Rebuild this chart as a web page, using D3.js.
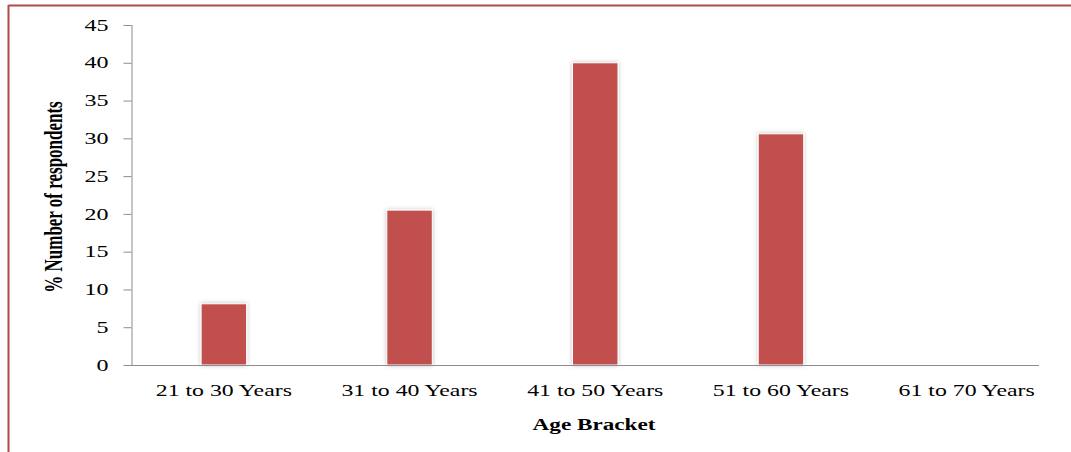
<!DOCTYPE html>
<html>
<head>
<meta charset="utf-8">
<script src="https://cdn.jsdelivr.net/npm/d3@7"></script>
<style>
  html, body { margin: 0; padding: 0; background: #fff; }
  svg { display: block; }
  text { font-family: "Liberation Serif", "Times New Roman", serif; fill: #000; }
</style>
</head>
<body>
<svg id="chart" width="1071" height="452"></svg>
<script>
const categories = ["21 to 30 Years", "31 to 40 Years", "41 to 50 Years", "51 to 60 Years", "61 to 70 Years"];
const values = [8.1, 20.5, 40, 30.6, 0];
const yTicks = [0, 5, 10, 15, 20, 25, 30, 35, 40, 45];
const xTitle = "Age Bracket";
const yTitle = "% Number of respondents";

const svg = d3.select("#chart");
const SX = 1.45;

// frame border (top and left)
svg.append("line").attr("x1", 8.5).attr("x2", 1071).attr("y1", 5.5).attr("y2", 5.5)
  .attr("stroke", "#b24a48").attr("stroke-width", 2);
svg.append("line").attr("x1", 8.5).attr("x2", 8.5).attr("y1", 5).attr("y2", 452)
  .attr("stroke", "#b24a48").attr("stroke-width", 2);

const defs = svg.append("defs");
const f = defs.append("filter").attr("id", "shadow")
  .attr("x", "-30%").attr("y", "-10%").attr("width", "160%").attr("height", "120%");
f.append("feDropShadow").attr("dx", 0).attr("dy", 0).attr("stdDeviation", 2)
  .attr("flood-color", "#000").attr("flood-opacity", 0.25);

const x = d3.scaleBand().domain(categories).range([131, 1059.5]).padding(0);
const y = d3.scaleLinear().domain([0, 45]).range([365, 25]);
const barFrac = 0.245;

// bars
svg.append("g").selectAll("rect").data(categories).join("rect")
  .attr("x", (d) => x(d) + x.bandwidth() * (1 - barFrac) / 2)
  .attr("width", x.bandwidth() * barFrac)
  .attr("y", (d, i) => y(values[i]))
  .attr("height", (d, i) => y(0) - y(values[i]))
  .attr("fill", "#c0504d")
  .attr("stroke", "#fff")
  .attr("stroke-width", 1)
  .attr("filter", "url(#shadow)");

// y axis
const yAxis = svg.append("g").attr("transform", "translate(131.5,0)")
  .call(d3.axisLeft(y).tickValues(yTicks).tickSize(8).tickPadding(15));
yAxis.select(".domain").attr("stroke", "#8c8c8c").attr("d", "M0.5,25V365.5");
yAxis.selectAll(".tick line").attr("stroke", "#8c8c8c");
yAxis.selectAll(".tick text")
  .attr("font-size", 16)
  .attr("font-family", "Liberation Serif, serif")
  .attr("x", -23 / 1.5)
  .attr("transform", "scale(1.5,1)");

// x axis
const xAxis = svg.append("g").attr("transform", "translate(0,365.5)")
  .call(d3.axisBottom(x).tickSize(0).tickPadding(0));
xAxis.select(".domain").attr("stroke", "#8c8c8c").attr("d", "M131,0H1039");
xAxis.selectAll(".tick text")
  .attr("font-size", 17)
  .attr("font-family", "Liberation Serif, serif")
  .attr("dy", 0)
  .attr("y", 31)
  .attr("transform", "scale(1.4,1)");

// titles
svg.append("text")
  .attr("transform", `translate(594,430) scale(${SX},1)`)
  .attr("text-anchor", "middle")
  .attr("font-size", 16)
  .attr("font-weight", "bold")
  .text(xTitle);

svg.append("text")
  .attr("transform", `translate(62,197) scale(${SX},1) rotate(-90)`)
  .attr("text-anchor", "middle")
  .attr("font-size", 17)
  .attr("font-weight", "bold")
  .text(yTitle);
</script>
</body>
</html>
